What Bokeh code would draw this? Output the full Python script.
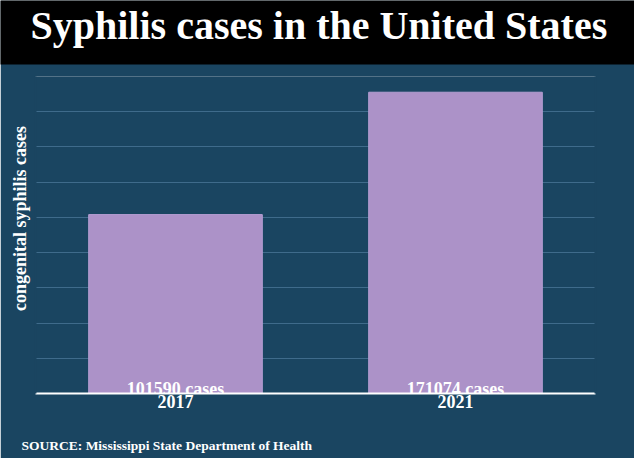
import math
from bokeh.plotting import figure
from bokeh.models import FactorRange, Range1d, Label, FixedTicker, LinearAxis
from bokeh.core.properties import value
from bokeh.embed import file_html
from bokeh.resources import INLINE

# ---- data ----
categories = ["2017", "2021"]
cases = [101590, 171074]
bar_labels = ["101590 cases", "171074 cases"]
grid_ticks = [20000, 40000, 60000, 80000, 100000, 120000, 140000, 160000, 180000]

title_text = "Syphilis cases in the United States"
y_label = "congenital syphilis cases"
source_text = "SOURCE: Mississippi State Department of Health"

FONT = "Liberation Serif"
BG = "#1a4561"
BAR = "#ac92c8"
GRID = "#3f6b8b"

p = figure(width=634, height=458, x_range=FactorRange(factors=categories, range_padding=0),
           y_range=Range1d(0, 180000),
           output_backend="svg", toolbar_location=None, y_axis_location=None,
           min_border_left=35, min_border_right=39, min_border_top=76,
           min_border_bottom=65)
p.background_fill_color = BG
p.border_fill_color = BG
p.outline_line_color = None
p.xgrid.visible = False
p.ygrid.ticker = FixedTicker(ticks=grid_ticks)
p.ygrid.grid_line_color = GRID
p.ygrid.grid_line_width = 1

# lines on frame edges (hide rendering seams)
for side in ("left", "right"):
    a = LinearAxis(ticker=FixedTicker(ticks=[]), axis_line_color=BG, axis_line_width=2,
                   major_tick_line_color=None, minor_tick_line_color=None,
                   major_label_text_font_size="0px")
    p.add_layout(a, side)

p.vbar(x=categories, top=cases, width=0.62, fill_color=BAR, line_color="#b59ed2",
       line_width=1)

p.text(x=categories, y=[0, 0], text=bar_labels, y_offset=-5,
       text_align="center", text_baseline="alphabetic", text_color="white",
       text_font=value(FONT), text_font_style="bold", text_font_size="18px")

ax = p.xaxis[0]
ax.axis_line_color = "white"
ax.axis_line_width = 2
ax.major_tick_line_color = None
ax.minor_tick_line_color = None
ax.major_tick_out = 0
ax.major_label_standoff = 1
ax.major_label_text_color = "white"
ax.major_label_text_font = FONT
ax.major_label_text_font_style = "bold"
ax.major_label_text_font_size = "18px"

# title with black band (label placed in the top panel so it is not clipped)
p.add_layout(Label(x=-0.125, y=223155, text=title_text, text_color="white",
                   text_font=FONT, text_font_style="bold",
                   text_font_size="40px", text_baseline="top",
                   text_align="left", background_fill_color="black",
                   background_fill_alpha=1,
                   padding=dict(left=30, right=80, top=3, bottom=16)), "above")

p.add_layout(Label(x=-0.0536, y=99370, text=y_label, angle=math.pi / 2,
                   text_align="center", text_baseline="middle",
                   text_color="white", text_font=FONT, text_font_style="bold",
                   text_font_size="18px"), "left")

p.add_layout(Label(x=-0.05, y=-29527, text=source_text,
                   text_align="left", text_baseline="alphabetic",
                   text_color="white", text_font=FONT, text_font_style="bold",
                   text_font_size="13.5px"), "below")

open("out.html", "w").write(file_html(p, INLINE))
